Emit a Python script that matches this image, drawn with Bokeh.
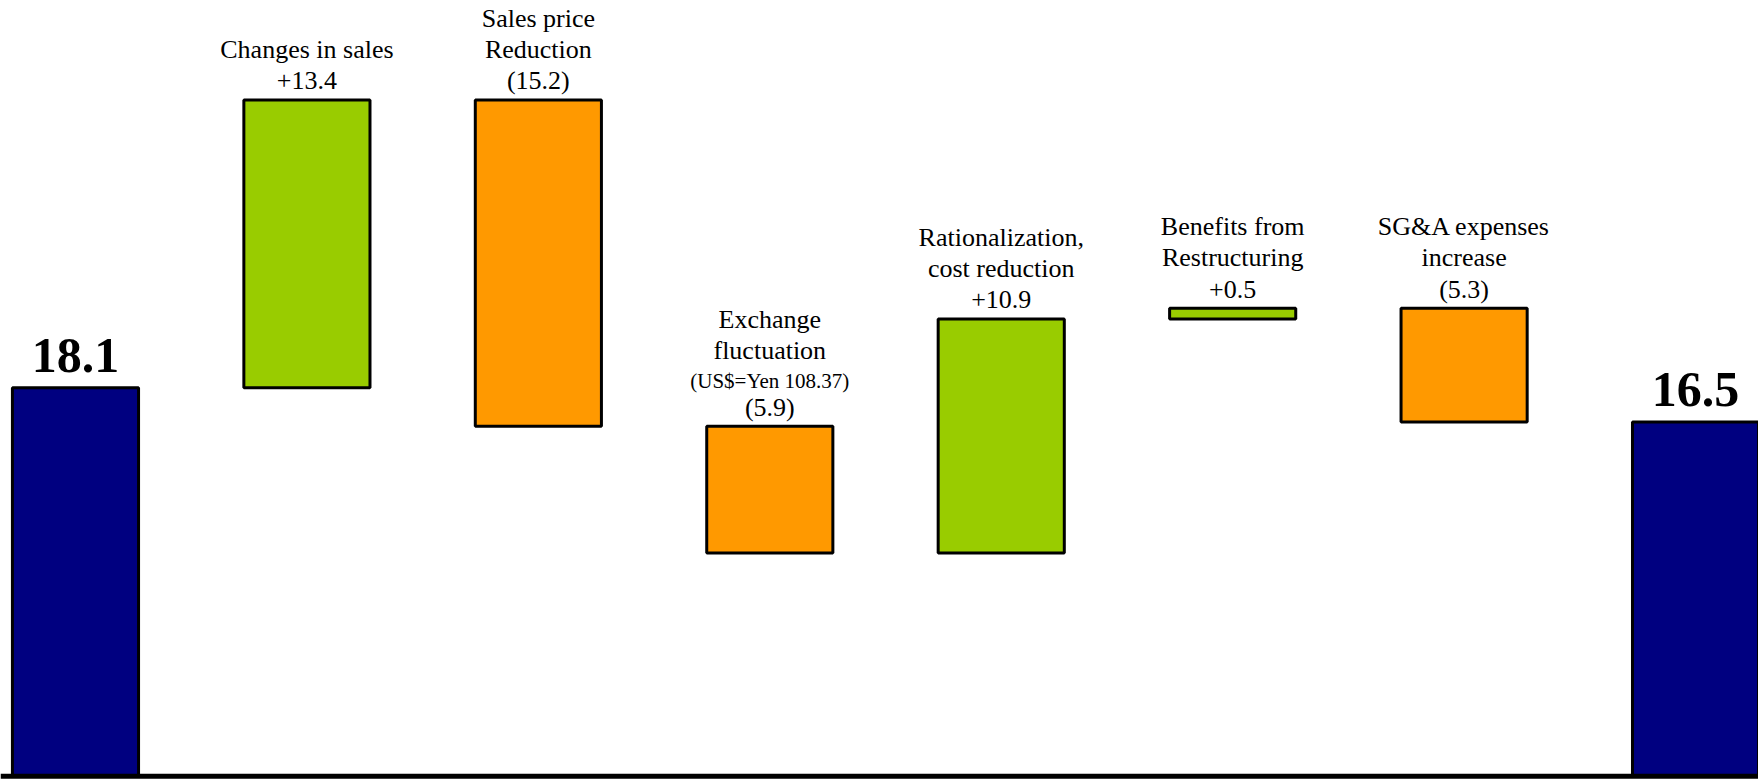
from bokeh.plotting import figure
from bokeh.models import ColumnDataSource, Range1d, Span
from bokeh.core.properties import value
from bokeh.embed import file_html
from bokeh.resources import INLINE

# ---- data ----
start_value = 18.1
end_value = 16.5
step_names = [
    ["Changes in sales"],
    ["Sales price", "Reduction"],
    ["Exchange", "fluctuation"],
    ["Rationalization,", "cost reduction"],
    ["Benefits from", "Restructuring"],
    ["SG&A expenses", "increase"],
]
step_notes = ["", "", "(US$=Yen 108.37)", "", "", ""]
step_values = [13.4, -15.2, -5.9, 10.9, 0.5, -5.3]

# ---- colours / styles ----
TOTAL_COLOR = "#000080"
UP_COLOR = "#99CC00"
DOWN_COLOR = "#FF9900"
FONT = "Liberation Serif"
LABEL_PX = 26
NOTE_PX = 21
BIG_PX = 50
BASE_FIX = 0.35  # empirical baseline correction (fraction of font size)

# ---- waterfall geometry from data ----
xs, bottoms, tops, colors = [], [], [], []
xs.append(0); bottoms.append(0.0); tops.append(start_value); colors.append(TOTAL_COLOR)
level = start_value
for i, v in enumerate(step_values):
    new = level + v
    xs.append(i + 1)
    bottoms.append(min(level, new))
    tops.append(max(level, new))
    colors.append(UP_COLOR if v >= 0 else DOWN_COLOR)
    level = new
xs.append(len(step_values) + 1); bottoms.append(0.0); tops.append(end_value); colors.append(TOTAL_COLOR)

bars = ColumnDataSource(dict(x=xs, bottom=bottoms, top=tops, color=colors))

p = figure(width=1758, height=779, output_backend="svg", toolbar_location=None,
           x_axis_type=None, y_axis_type=None,
           x_range=Range1d(-0.324, 7.272), y_range=Range1d(-0.149, 36.134),
           min_border=0, min_border_left=0, min_border_right=0,
           min_border_top=0, min_border_bottom=0)
p.outline_line_color = None
p.xgrid.visible = False
p.ygrid.visible = False
p.background_fill_color = "white"
p.border_fill_color = "white"

p.vbar(x="x", bottom="bottom", top="top", width=0.545, fill_color="color",
       line_color="black", line_width=3, source=bars)

# baseline
p.add_layout(Span(location=0, dimension="width", line_color="black", line_width=5))

# ---- step labels ----
lx, ly, ltext, lsize, loff = [], [], [], [], []
for i, v in enumerate(step_values):
    vstr = ("+%.1f" % v) if v >= 0 else ("(%.1f)" % abs(v))
    lines = list(step_names[i])
    sizes = [LABEL_PX] * len(lines)
    if step_notes[i]:
        lines.append(step_notes[i]); sizes.append(NOTE_PX)
    lines.append(vstr); sizes.append(LABEL_PX)
    off = 10.0
    prev = None
    for k in range(len(lines) - 1, -1, -1):
        if prev is not None:
            off += 0.6 * (sizes[k] + prev)
        lx.append(i + 1); ly.append(tops[i + 1]); ltext.append(lines[k])
        lsize.append("%dpx" % sizes[k]); loff.append(-(off + BASE_FIX * sizes[k]))
        prev = sizes[k]

labels = ColumnDataSource(dict(x=lx, y=ly, text=ltext, size=lsize, off=loff))
p.text(x="x", y="y", text="text", text_font_size="size", y_offset="off",
       text_font=value(FONT), text_color="black", text_align="center",
       text_baseline="alphabetic", source=labels)

# ---- total labels ----
totals = ColumnDataSource(dict(x=[0, len(step_values) + 1], y=[start_value, end_value],
                               text=["%.1f" % start_value, "%.1f" % end_value]))
p.text(x="x", y="y", text="text", text_font=value(FONT), text_font_size=value("%dpx" % BIG_PX),
       text_font_style="bold", text_color="black", text_align="center",
       text_baseline="alphabetic", y_offset=-(15 + BASE_FIX * BIG_PX), source=totals)

open("out.html", "w").write(file_html(p, INLINE))
